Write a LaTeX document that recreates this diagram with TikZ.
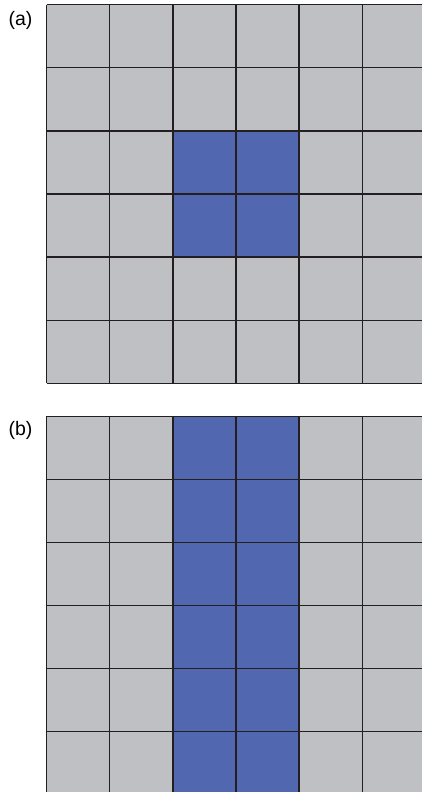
\documentclass[tikz,border=0pt]{standalone}
\usepackage{fontspec}
\setmainfont{Liberation Sans}
\definecolor{cellgray}{RGB}{191,192,196}
\definecolor{cellblue}{RGB}{81,104,176}
\definecolor{gridline}{RGB}{35,31,32}

\begin{document}
\begin{tikzpicture}[x=1pt, y=-1pt,
		cellfill/.style={fill=cellgray},
		hotfill/.style={fill=cellblue},
		gridpen/.style={draw=gridline, line width=1.3pt},
		panellabel/.style={font=\fontsize{19.5}{19.5}\selectfont, inner sep=0pt}
		]
		\useasboundingbox (0,0) rectangle (422,792);
		\clip (0,0) rectangle (422,792);
		
		% ----- (a): 2x2 block in the middle -----
		\node[panellabel] (labA) at (20.5,20.7) {(a)};
		\fill[cellfill] (46.7,4.7) rectangle +(378.6,378.6);
		\fill[hotfill] ({46.7+63.1*2},{4.7+63.1*2}) rectangle +(126.2,126.2);
		\foreach \k in {0,...,6} {
			\draw[gridpen] ({46.7+63.1*\k},4.7) -- +(0,378.6);
			\draw[gridpen] (46.7,{4.7+63.1*\k}) -- +(378.6,0);
		}
		
		% ----- (b): full column band -----
		\node[panellabel] (labB) at (20.5,430.9) {(b)};
		\fill[cellfill] (46.7,416.2) rectangle +(378.6,378.6);
		\fill[hotfill] ({46.7+63.1*2},416.2) rectangle +(126.2,378.6);
		\foreach \k in {0,...,6} {
			\draw[gridpen] ({46.7+63.1*\k},416.2) -- +(0,378.6);
			\draw[gridpen] (46.7,{416.2+63.1*\k}) -- +(378.6,0);
		}
		
	\end{tikzpicture}
\end{document}
